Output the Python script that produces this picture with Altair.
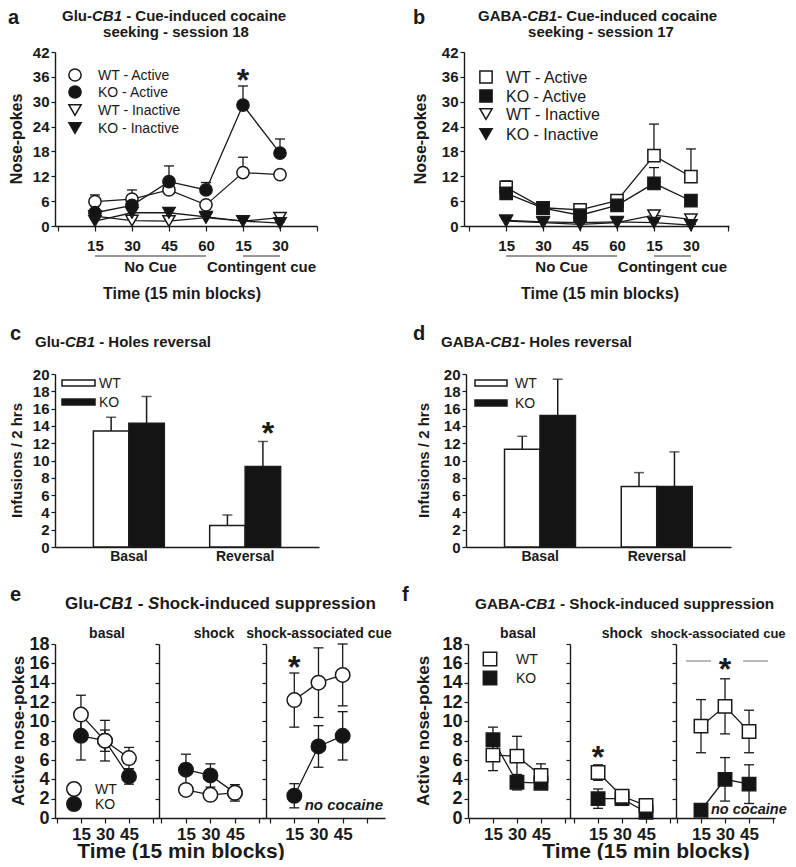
import altair as alt
import pandas as pd

FONT = "Liberation Sans"
INK = "#1a1a1a"
BLACK = "#141414"

# ---------------- data ----------------
# a: Glu-CB1 cue-induced cocaine seeking, session 18
a_ticks = ["15", "30", "45", "60", "15", "30"]
a_phases = ["No Cue", "Contingent cue"]
a_phase_sizes = [4, 2]
a_wt_active = [5.9, 6.5, 8.7, 5.1, 12.9, 12.4]
a_wt_active_err = [1.6, 2.2, 1.0, 0.8, 3.7, 0.6]
a_ko_active = [3.2, 5.0, 10.7, 8.7, 29.2, 17.6]
a_ko_active_err = [1.0, 1.5, 3.8, 1.8, 4.6, 3.4]
a_wt_inactive = [2.4, 1.3, 1.2, 2.0, 1.2, 2.0]
a_wt_inactive_err = [0.8, 0.5, 0.5, 0.4, 0.3, 0.6]
a_ko_inactive = [1.2, 3.2, 3.2, 2.2, 1.2, 0.7]
a_ko_inactive_err = [0.4, 0.6, 1.1, 0.5, 0.3, 0.3]
a_star_idx = 5

# b: GABA-CB1 cue-induced cocaine seeking, session 17
b_ticks = ["15", "30", "45", "60", "15", "30"]
b_phases = ["No Cue", "Contingent cue"]
b_phase_sizes = [4, 2]
b_wt_active = [9.3, 4.4, 3.9, 6.1, 17.0, 11.9]
b_wt_active_err = [1.6, 0.8, 0.6, 0.8, 7.6, 6.7]
b_ko_active = [7.9, 4.3, 2.6, 5.0, 10.3, 6.1]
b_ko_active_err = [1.3, 0.7, 0.8, 0.7, 3.8, 1.3]
b_wt_inactive = [1.2, 0.8, 0.4, 0.8, 2.6, 1.6]
b_wt_inactive_err = [0.4, 0.3, 0.2, 0.3, 0.6, 0.6]
b_ko_inactive = [1.4, 1.0, 0.8, 1.0, 0.8, 0.2]
b_ko_inactive_err = [0.3, 0.3, 0.3, 0.3, 0.3, 0.2]

series_labels = ["WT - Active", "KO - Active", "WT - Inactive", "KO - Inactive"]

# c / d: holes reversal
bar_groups = ["Basal", "Reversal"]
genotypes = ["WT", "KO"]
c_wt = [13.4, 2.5]
c_wt_err = [1.6, 1.2]
c_ko = [14.3, 9.3]
c_ko_err = [3.1, 2.9]
d_wt = [11.3, 7.0]
d_wt_err = [1.5, 1.6]
d_ko = [15.2, 7.0]
d_ko_err = [4.2, 4.0]

# e / f: shock-induced suppression (basal, shock, shock-associated cue)
shock_ticks = ["15", "30", "45"]
shock_phases = ["basal", "shock", "shock-associated cue"]
e_wt = [[10.7, 8.0, 6.2], [2.9, 2.4, 2.6], [12.2, 14.0, 14.8]]
e_wt_err = [[2.0, 1.1, 1.1], [0.4, 0.4, 0.4], [2.8, 3.6, 3.2]]
e_ko = [[8.5, 8.0, 4.3], [5.0, 4.4, 2.6], [2.3, 7.4, 8.5]]
e_ko_err = [[2.5, 2.1, 0.8], [1.6, 1.2, 0.85], [1.25, 2.15, 2.5]]
f_wt = [[6.5, 6.4, 4.4], [4.7, 2.25, 1.3], [9.5, 11.55, 8.95]]
f_wt_err = [[1.6, 2.05, 1.2], [0.8, 0.4, 0.3], [2.75, 2.85, 2.2]]
f_ko = [[8.1, 3.7, 3.6], [2.0, 2.0, 0.6], [0.8, 4.0, 3.5]]
f_ko_err = [[1.3, 0.8, 0.3], [1.0, 0.7, 0.3], [0.3, 2.25, 2.0]]
f_sig_spans = [[0.375, 1.42], [2.75, 3.79]]

# ---------------- helpers ----------------
W_BOLD = {" ": 278, "-": 333, "/": 278, "(": 333, ")": 333, "*": 389}
for _d in "0123456789":
    W_BOLD[_d] = 556
W_BOLD.update({"A": 722, "B": 722, "C": 722, "G": 778, "H": 722, "I": 278, "K": 722,
               "N": 722, "O": 778, "S": 667, "T": 611, "W": 944,
               "a": 556, "b": 611, "c": 556, "d": 611, "e": 556, "f": 333, "g": 611,
               "h": 611, "i": 278, "k": 556, "l": 278, "m": 889, "n": 611, "o": 611,
               "p": 611, "r": 389, "s": 556, "t": 333, "u": 611, "v": 556})

ONE = pd.DataFrame({"k": [0]})


def tw(s, size):
    return sum(W_BOLD.get(c, 556) for c in s) * size / 1000.0


def txt(s, x, y, size, weight="bold", style="normal", align="left", angle=0, color=INK):
    p = dict(text=s, font=FONT, fontSize=size, fontWeight=weight, align=align,
             baseline="alphabetic", color=color)
    if style != "normal":
        p["fontStyle"] = style
    if angle:
        p["angle"] = angle
    return alt.Chart(ONE).mark_text(**p).encode(x=alt.value(x), y=alt.value(y))


def rich(parts, x, y, size):
    sp = tw(" ", size)
    cx = x
    out = []
    for p, it in parts:
        s = p.strip(" ")
        lead = len(p) - len(p.lstrip(" "))
        trail = len(p) - len(p.rstrip(" "))
        cx += lead * sp
        out.append(txt(s, cx, y, size, style="italic" if it else "normal"))
        cx += tw(s, size) + trail * sp
    return out


def sdf(vals, errs, both):
    return pd.DataFrame({
        "idx": list(range(1, len(vals) + 1)),
        "val": vals,
        "lo": [v - e if both else v for v, e in zip(vals, errs)],
        "hi": [v + e for v, e in zip(vals, errs)],
    })


def label_expr(labels):
    return "[" + ",".join("'" + t + "'" for t in labels) + "][datum.value]"


def series_parts(df, Xf, Yf, shape, fill, size, both, cap=5):
    line = alt.Chart(df).mark_line(color=INK, strokeWidth=1.3).encode(x=Xf("idx:Q"), y=Yf("val:Q"))
    errs = [alt.Chart(df).mark_rule(color=INK, strokeWidth=1.3).encode(
        x=Xf("idx:Q"), y=Yf("lo:Q"), y2="hi:Q")]
    ends = ["hi:Q", "lo:Q"] if both else ["hi:Q"]
    for e in ends:
        errs.append(alt.Chart(df).mark_rule(color=INK, strokeWidth=1.3, xOffset=-cap, x2Offset=cap).encode(
            x=Xf("idx:Q"), x2="idx:Q", y=Yf(e)))
    pts = alt.Chart(df).mark_point(shape=shape, filled=True, fill=fill, stroke=INK, strokeWidth=1.5,
                                   size=size, opacity=1).encode(x=Xf("idx:Q"), y=Yf("val:Q"))
    return line, errs, pts


# ---------------- panels a / b ----------------
def cue_panel(g, ticks, phases, phase_sizes, series, shapes, fills, star_idx, title1, title2, letter):
    labels = [""] + list(ticks) + [""]
    xsc = alt.Scale(domain=g["xdom"], nice=False, zero=False)
    xax = alt.Axis(values=list(range(len(labels))), labelExpr=label_expr(labels), labelFontSize=15,
                   tickSize=5, labelPadding=7, title=None)
    ysc = alt.Scale(domain=[0, 42], nice=False)
    yax = alt.Axis(values=list(range(0, 43, 6)), labelFontSize=15, tickSize=4, labelPadding=2, title=None)

    def Xf(f):
        return alt.X(f, scale=xsc, axis=xax)

    def Yf(f):
        return alt.Y(f, scale=ysc, axis=yax)

    layers = []
    starts, s = [], 1
    for n in phase_sizes:
        starts.append(s)
        s += n
    ph = pd.DataFrame({"name": phases, "idx": starts,
                       "idx2": [a + n - 1 for a, n in zip(starts, phase_sizes)]})
    ph["mid"] = (ph["idx"] + ph["idx2"]) / 2
    layers.append(alt.Chart(ph).mark_rule(color="#333333", strokeWidth=1.2).encode(
        x=Xf("idx:Q"), x2="idx2:Q", y=alt.value(g["under_y"])))
    layers.append(alt.Chart(ph).mark_text(font=FONT, fontSize=15, fontWeight="bold", color=INK,
                                          baseline="alphabetic").encode(
        x=Xf("mid:Q"), y=alt.value(g["phase_y"]), text="name:N"))

    parts = [series_parts(sdf(v, e, False), Xf, Yf, shapes[i], fills[i], g["msize"], False)
             for i, (v, e) in enumerate(series)]
    for p in parts:
        layers.append(p[0])
    for p in parts:
        layers.extend(p[1])
    for i in [2, 3, 0, 1]:
        layers.append(parts[i][2])

    if star_idx is not None:
        sd = pd.DataFrame({"idx": [star_idx]})
        layers.append(alt.Chart(sd).mark_text(text="*", font=FONT, fontSize=32, fontWeight="bold",
                                              color=INK, baseline="alphabetic").encode(
            x=Xf("idx:Q"), y=alt.value(g["star_y"])))

    for i, lab in enumerate(series_labels):
        ry = g["leg_rows"][i]
        layers.append(alt.Chart(ONE).mark_point(shape=shapes[i], filled=True, fill=fills[i], stroke=INK,
                                                strokeWidth=1.5, size=g["msize"], opacity=1).encode(
            x=alt.value(g["leg_mx"]), y=alt.value(ry)))
        layers.append(txt(lab, g["leg_tx"], ry + g["leg_off"], g["leg_fs"], weight="normal"))

    layers.append(txt(letter, g["letter_x"], g["letter_y"], 20))
    layers.extend(rich(title1, g["t1_x"], g["t1_y"], 15))
    layers.append(txt(title2, g["t2_x"], g["t2_y"], 15, align="center"))
    layers.append(txt("Time (15 min blocks)", g["time_x"], g["time_y"], 16, align="center"))
    layers.append(txt("Nose-pokes", g["ytitle_x"], g["H"] / 2, 16, align="center", angle=270))
    return alt.layer(*layers).properties(width=g["W"], height=g["H"])


GA = dict(W=262, H=174, xdom=[-0.08, 7.0], under_y=204, phase_y=220, time_x=127, time_y=247,
          ytitle_x=-33, letter_x=-47, letter_y=-28, t1_x=7, t1_y=-31, t2_x=121, t2_y=-15,
          leg_mx=20, leg_rows=[23, 40, 58, 76], leg_tx=43, leg_off=5, leg_fs=14, msize=150, star_y=39)
GB = dict(W=265, H=174, xdom=[-0.14, 7.03], under_y=204, phase_y=220, time_x=136, time_y=247,
          ytitle_x=-38, letter_x=-51, letter_y=-28, t1_x=14, t1_y=-31, t2_x=137, t2_y=-15,
          leg_mx=22, leg_rows=[25, 44, 62, 82], leg_tx=42, leg_off=6, leg_fs=16, msize=150, star_y=0)

panel_a = cue_panel(
    GA, a_ticks, a_phases, a_phase_sizes,
    [(a_wt_active, a_wt_active_err), (a_ko_active, a_ko_active_err),
     (a_wt_inactive, a_wt_inactive_err), (a_ko_inactive, a_ko_inactive_err)],
    ["circle", "circle", "triangle-down", "triangle-down"], ["white", BLACK, "white", BLACK],
    a_star_idx, [("Glu-", 0), ("CB1", 1), (" - Cue-induced cocaine", 0)], "seeking - session 18", "a")

panel_b = cue_panel(
    GB, b_ticks, b_phases, b_phase_sizes,
    [(b_wt_active, b_wt_active_err), (b_ko_active, b_ko_active_err),
     (b_wt_inactive, b_wt_inactive_err), (b_ko_inactive, b_ko_inactive_err)],
    ["square", "square", "triangle-down", "triangle-down"], ["white", BLACK, "white", BLACK],
    None, [("GABA-", 0), ("CB1", 1), ("- Cue-induced cocaine", 0)], "seeking - session 17", "b")


# ---------------- panels c / d ----------------
def bar_panel(g, wt, wte, ko, koe, title, letter, star):
    df = pd.DataFrame({
        "cond": bar_groups + bar_groups,
        "geno": [genotypes[0]] * len(bar_groups) + [genotypes[1]] * len(bar_groups),
        "val": wt + ko,
        "hi": [v + e for v, e in zip(wt + ko, wte + koe)],
    })
    X = alt.X("cond:N", sort=bar_groups, scale=alt.Scale(paddingInner=0.39, paddingOuter=0.33),
              axis=alt.Axis(labelAngle=0, ticks=False, labelPadding=2, labelFontSize=14, title=None))
    XO = alt.XOffset("geno:N", sort=genotypes, scale=alt.Scale(paddingInner=0, paddingOuter=0))
    ysc = alt.Scale(domain=[0, 20], nice=False)
    yax = alt.Axis(values=list(range(0, 21, 2)), labelFontSize=15, tickSize=4, labelPadding=2, title=None)
    layers = [
        alt.Chart(df).mark_bar(stroke=INK, strokeWidth=1.5).encode(
            x=X, xOffset=XO, y=alt.Y("val:Q", scale=ysc, axis=yax, stack=False),
            fill=alt.Fill("geno:N", scale=alt.Scale(domain=genotypes, range=["white", BLACK]), legend=None)),
        alt.Chart(df).mark_rule(color=INK, strokeWidth=1.5).encode(
            x=X, xOffset=XO, y=alt.Y("val:Q", scale=ysc, axis=yax, stack=False), y2="hi:Q"),
        alt.Chart(df).mark_tick(color=INK, thickness=1.5, size=10, orient="horizontal").encode(
            x=X, xOffset=XO, y=alt.Y("hi:Q", scale=ysc, axis=yax, stack=False)),
    ]
    for i, (lab, fill) in enumerate(zip(genotypes, ["white", BLACK])):
        cy = g["leg_rows"][i]
        layers.append(alt.Chart(ONE).mark_rect(fill=fill, stroke=INK, strokeWidth=1.5).encode(
            x=alt.value(g["leg_x1"]), x2=alt.value(g["leg_x2"]), y=alt.value(cy - 3), y2=alt.value(cy + 3)))
        layers.append(txt(lab, g["leg_tx"], cy + 5, 14, weight="normal"))
    if star:
        layers.append(txt("*", g["star_x"], g["star_y"], 32, align="center"))
    layers.append(txt(letter, g["letter_x"], g["letter_y"], 20))
    layers.extend(rich(title, g["t_x"], g["t_y"], 15))
    layers.append(txt("Infusions / 2 hrs", g["ytitle_x"], g["H"] / 2, 15, align="center", angle=270))
    return alt.layer(*layers).properties(width=g["W"], height=g["H"])


GC = dict(W=264, H=173, leg_rows=[9, 28], leg_x1=7, leg_x2=40, leg_tx=44, star_x=213, star_y=70,
          letter_x=-45, letter_y=-34, t_x=-20, t_y=-27, ytitle_x=-33)
GD = dict(W=265, H=173, leg_rows=[9, 29], leg_x1=9, leg_x2=41, leg_tx=49, star_x=0, star_y=0,
          letter_x=-53, letter_y=-34, t_x=-25, t_y=-27, ytitle_x=-37)

panel_c = bar_panel(GC, c_wt, c_wt_err, c_ko, c_ko_err,
                    [("Glu-", 0), ("CB1", 1), (" - Holes reversal", 0)], "c", True)
panel_d = bar_panel(GD, d_wt, d_wt_err, d_ko, d_ko_err,
                    [("GABA-", 0), ("CB1", 1), ("- Holes reversal", 0)], "d", False)


# ---------------- panels e / f ----------------
def shock_sub(g, wt, wte, ko, koe, shape, msize, show_labels, extra):
    labels = [""] + list(shock_ticks) + [""]
    xsc = alt.Scale(domain=g["xdom"], nice=False, zero=False)
    xax = alt.Axis(values=list(range(len(labels))), labelExpr=label_expr(labels), labelFontSize=17,
                   tickSize=5, labelPadding=3, title=None)
    ysc = alt.Scale(domain=[0, 18], nice=False)
    yax = alt.Axis(values=list(range(0, 19, 2)), labels=show_labels, labelFontSize=18, tickSize=4,
                   labelPadding=2, title=None)

    def Xf(f):
        return alt.X(f, scale=xsc, axis=xax)

    def Yf(f):
        return alt.Y(f, scale=ysc, axis=yax)

    pw = series_parts(sdf(wt, wte, True), Xf, Yf, shape, "white", msize, True)
    pk = series_parts(sdf(ko, koe, True), Xf, Yf, shape, BLACK, msize, True)
    layers = [pw[0], pk[0]] + pw[1] + pk[1] + [pk[2], pw[2]]
    layers += extra(Xf)
    layers.append(txt(g["sub"], g["sub_x"], -6, g["sub_fs"], align="center"))
    return alt.layer(*layers).properties(width=g["W"], height=174)


def star_at(idx, y):
    def f(Xf):
        sd = pd.DataFrame({"idx": [idx]})
        return [alt.Chart(sd).mark_text(text="*", font=FONT, fontSize=32, fontWeight="bold", color=INK,
                                        baseline="alphabetic").encode(x=Xf("idx:Q"), y=alt.value(y))]
    return f


def legend_layers(shape, msize, mx, rows, tx):
    out = []
    for i, (lab, fill) in enumerate(zip(genotypes, ["white", BLACK])):
        out.append(alt.Chart(ONE).mark_point(shape=shape, filled=True, fill=fill, stroke=INK, strokeWidth=1.5,
                                             size=msize, opacity=1).encode(x=alt.value(mx), y=alt.value(rows[i])))
        out.append(txt(lab, tx, rows[i] + 5, 14, weight="normal"))
    return out


E_SIZE = 210
F_SIZE = 180
TIME_Y = 214
TIME_FS = 21


def e1_extra(Xf):
    out = legend_layers("circle", E_SIZE, 19, [145, 160], 40)
    out.append(txt("e", -45, -43, 20))
    out += rich([("Glu-", 0), ("CB1", 1), (" - ", 0), ("S", 1), ("hock-induced suppression", 0)], 10, -35, 17)
    out.append(txt("Active nose-pokes", -31, 87, 17, align="center", angle=270))
    return out


def e2_extra(Xf):
    return [txt("Time (15 min blocks)", 22, TIME_Y, TIME_FS, align="center")]


def e3_extra(Xf):
    return star_at(1, 34)(Xf) + [txt("no cocaine", 117, 166, 15, style="italic", align="right")]


def f1_extra(Xf):
    out = legend_layers("square", F_SIZE, 22, [15, 34], 48)
    out.append(txt("f", -66, -43, 20))
    out += rich([("GABA-", 0), ("CB1", 1), (" - Shock-induced suppression", 0)], 7, -35, 15.3)
    out.append(txt("Active nose-pokes", -39, 87, 17, align="center", angle=270))
    return out


def f2_extra(Xf):
    return star_at(1, 124)(Xf) + [txt("Time (15 min blocks)", 76, TIME_Y, TIME_FS, align="center")]


def f3_extra(Xf):
    sp = pd.DataFrame({"idx": [s[0] for s in f_sig_spans], "idx2": [s[1] for s in f_sig_spans]})
    out = [alt.Chart(sp).mark_rule(color="#8a8a8a", strokeWidth=1.2).encode(
        x=Xf("idx:Q"), x2="idx2:Q", y=alt.value(17))]
    out += star_at(2, 36)(Xf)
    out.append(txt("no cocaine", 35, 170, 14.5, style="italic"))
    return out


GE = [dict(W=104, xdom=[-0.08, 4.25], sub=shock_phases[0], sub_x=52, sub_fs=14),
      dict(W=107, xdom=[-0.10, 4.27], sub=shock_phases[1], sub_x=55, sub_fs=14),
      dict(W=119, xdom=[-0.17, 4.75], sub=shock_phases[2], sub_x=53, sub_fs=14)]
GF = [dict(W=102, xdom=[-0.04, 4.21], sub=shock_phases[0], sub_x=50, sub_fs=14),
      dict(W=106, xdom=[-0.17, 4.25], sub=shock_phases[1], sub_x=52, sub_fs=14),
      dict(W=99, xdom=[-0.04, 4.08], sub=shock_phases[2], sub_x=42, sub_fs=13)]

e_extras = [e1_extra, e2_extra, e3_extra]
f_extras = [f1_extra, f2_extra, f3_extra]

e_subs = [shock_sub(GE[k], e_wt[k], e_wt_err[k], e_ko[k], e_ko_err[k], "circle", E_SIZE, k == 0, e_extras[k])
          for k in range(3)]
f_subs = [shock_sub(GF[k], f_wt[k], f_wt_err[k], f_ko[k], f_ko_err[k], "square", F_SIZE, k == 0, f_extras[k])
          for k in range(3)]

spacer = alt.Chart(ONE).mark_point(opacity=0, size=1).encode(x=alt.value(0), y=alt.value(0)).properties(
    width=83, height=174)

row1 = alt.hconcat(panel_a, panel_b, spacing=147, bounds="flush")
row2 = alt.hconcat(panel_c, panel_d, spacing=147, bounds="flush")
row3 = alt.hconcat(*e_subs, spacer, *f_subs, spacing=0, bounds="flush")

chart = alt.vconcat(alt.vconcat(row1, row2, spacing=22), row3, spacing=22).properties(
    padding={"top": 0, "bottom": -2, "left": 0, "right": 0}
).configure_axis(
    domainColor=INK, domainWidth=1.4, tickColor=INK, tickWidth=1.2, labelFont=FONT,
    labelFontWeight="bold", labelColor=INK, grid=False, labelFlush=False, labelOverlap=False
).configure_view(stroke=None)

chart.save("out.html", embed_options={"renderer": "svg", "actions": False})
